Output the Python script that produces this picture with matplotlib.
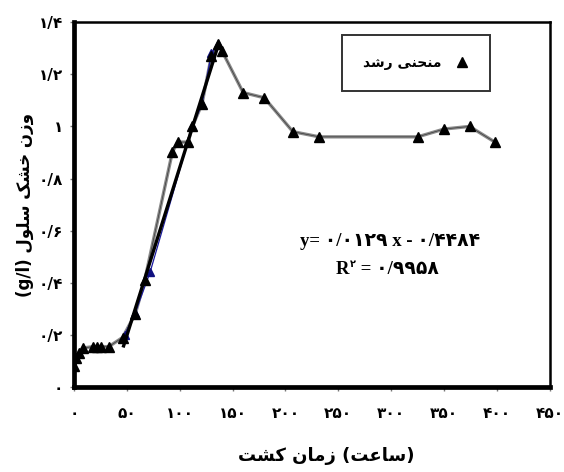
import numpy as np
import matplotlib
matplotlib.use("Agg")
import matplotlib.pyplot as plt
from matplotlib.lines import Line2D

# growth curve (all points)
time_h = [0, 2, 5, 9, 18, 22, 26, 33, 46, 58, 67, 93, 98, 108, 112, 121, 130, 136, 140,
          160, 180, 207, 232, 325, 350, 374, 398]
dry_wt = [0.08, 0.11, 0.13, 0.15, 0.155, 0.155, 0.155, 0.155, 0.19, 0.28, 0.41, 0.90, 0.94,
          0.94, 1.0, 1.085, 1.27, 1.315, 1.29, 1.13, 1.11, 0.98, 0.96, 0.96, 0.99, 1.0, 0.94]

# exponential phase points (blue)
exp_time = [48, 58, 72, 112, 121, 130, 136]
exp_wt = [0.2, 0.285, 0.44, 1.0, 1.085, 1.28, 1.315]

# trend line from the chart equation
slope, intercept, r2 = 0.0129, -0.4484, 0.9958
trend_range = [47, 136]

x_ticks = [0, 50, 100, 150, 200, 250, 300, 350, 400, 450]
y_ticks = [0, 0.2, 0.4, 0.6, 0.8, 1.0, 1.2, 1.4]

FA_DIGITS = str.maketrans("0123456789.", "۰۱۲۳۴۵۶۷۸۹/")

# presentation forms: isolated, final, initial, medial
FORMS = {
    'ا': ('\uFE8D', '\uFE8E', None, None),
    'ت': ('\uFE95', '\uFE96', '\uFE97', '\uFE98'),
    'ح': ('\uFEA1', '\uFEA2', '\uFEA3', '\uFEA4'),
    'خ': ('\uFEA5', '\uFEA6', '\uFEA7', '\uFEA8'),
    'د': ('\uFEA9', '\uFEAA', None, None),
    'ر': ('\uFEAD', '\uFEAE', None, None),
    'ز': ('\uFEAF', '\uFEB0', None, None),
    'س': ('\uFEB1', '\uFEB2', '\uFEB3', '\uFEB4'),
    'ش': ('\uFEB5', '\uFEB6', '\uFEB7', '\uFEB8'),
    'ع': ('\uFEC9', '\uFECA', '\uFECB', '\uFECC'),
    'ل': ('\uFEDD', '\uFEDE', '\uFEDF', '\uFEE0'),
    'م': ('\uFEE1', '\uFEE2', '\uFEE3', '\uFEE4'),
    'ن': ('\uFEE5', '\uFEE6', '\uFEE7', '\uFEE8'),
    'و': ('\uFEED', '\uFEEE', None, None),
    'ی': ('\uFEEF', '\uFEF0', '\uFEF3', '\uFEF4'),
    'ک': ('\uFB8E', '\uFB8F', '\uFB90', '\uFB91'),
}


def fa(text):
    # crude persian shaping + reverse to visual order
    out = []
    for i, ch in enumerate(text):
        if ch not in FORMS:
            out.append(ch)
            continue
        prev = text[i - 1] if i > 0 else ''
        nxt = text[i + 1] if i + 1 < len(text) else ''
        jp = prev in FORMS and FORMS[prev][2] is not None
        jn = FORMS[ch][2] is not None and nxt in FORMS
        f = FORMS[ch]
        if jp and jn:
            out.append(f[3])
        elif jp:
            out.append(f[1])
        elif jn:
            out.append(f[2])
        else:
            out.append(f[0])
    return ''.join(out)[::-1]


def fa_num(v):
    return ('%g' % v).translate(FA_DIGITS)


fig = plt.figure(figsize=(5.64, 4.72), dpi=100)
ax = fig.add_axes([0.131, 0.180, 0.844, 0.773])

ax.plot(time_h, dry_wt, color='#8a8a8a', lw=2.4, zorder=2)
ax.plot(time_h, dry_wt, color='#3a3a3a', lw=0.5, zorder=3)
ax.plot(time_h, dry_wt, ls='none', marker='^', ms=6.5, color='black', zorder=5)
ax.plot(exp_time, exp_wt, color='#1a1aa0', lw=0.9, marker='^', ms=6, mfc='#101080',
        mec='#101080', zorder=4)
tx = np.array(trend_range)
ax.plot(tx, slope * tx + intercept, color='black', lw=2.4, zorder=4)

ax.set_xlim(0, 450)
ax.set_ylim(0, 1.4)
ax.set_xticks(x_ticks)
ax.set_yticks(y_ticks)
ax.set_xticklabels([fa_num(v) for v in x_ticks])
ax.set_yticklabels([fa_num(v) for v in y_ticks])
for lbl in ax.get_xticklabels() + ax.get_yticklabels():
    lbl.set_fontweight('bold')
    lbl.set_fontsize(11)
ax.tick_params(direction='out', length=3, width=1, color='#777777')
ax.tick_params(axis='x', pad=11)
ax.tick_params(axis='y', pad=5)

for side in ['left', 'bottom']:
    ax.spines[side].set_linewidth(3.4)
for side in ['top', 'right']:
    ax.spines[side].set_linewidth(1.8)

ax.set_xlabel(fa('زمان کشت') + ' (' + fa('ساعت') + ')', fontsize=13,
              fontweight='bold')
ax.xaxis.set_label_coords(0.53, -0.165)
ax.set_ylabel('(g/l) ' + fa('وزن خشک سلول'), fontsize=12, fontweight='bold',
              labelpad=3)

handle = Line2D([], [], ls='none', marker='^', ms=6.5, color='black')
leg = ax.legend([handle], [fa('منحنی رشد')], loc='upper left',
                bbox_to_anchor=(0.563, 0.964), borderaxespad=0, markerfirst=False,
                fancybox=False, edgecolor='black', borderpad=1.5, handlelength=1.0,
                handletextpad=1.0, prop={'weight': 'bold', 'size': 10})
leg.get_frame().set_linewidth(1.4)

eq_font = dict(family=['Liberation Serif', 'DejaVu Sans'], fontweight='bold',
               fontsize=13.5, va='center')
ax.text(0.665, 0.40, 'y= ' + fa_num(slope) + ' x - ' + fa_num(-intercept),
        ha='center', transform=ax.transAxes, **eq_font)
r_x, r_y = 0.578, 0.323
ax.text(r_x, r_y, 'R', ha='right', transform=ax.transAxes, **eq_font)
ax.annotate(fa_num(2), (r_x, r_y), xycoords='axes fraction', xytext=(0.5, 4),
            textcoords='offset points', ha='left', va='center',
            family=['DejaVu Sans'], fontweight='bold', fontsize=7)
ax.annotate(' = ' + fa_num(r2), (r_x, r_y), xycoords='axes fraction',
            xytext=(5, 0), textcoords='offset points', ha='left', **eq_font)

fig.savefig('out.png', dpi=100)
